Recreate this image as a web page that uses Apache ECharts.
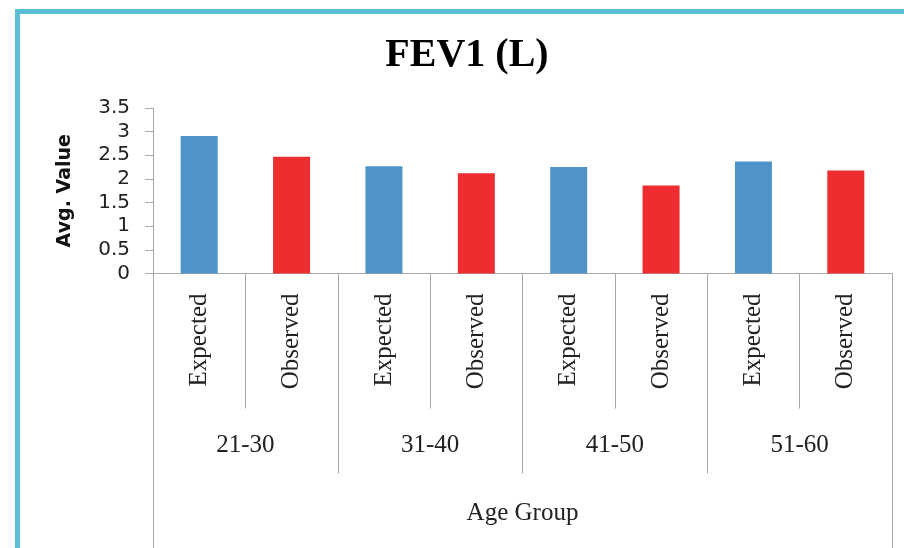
<!DOCTYPE html>
<html lang="en">
<head>
    <meta charset="UTF-8">
    <title>FEV1 (L)</title>
    <script type="text/javascript" src="https://cdn.jsdelivr.net/npm/echarts@6/dist/echarts.min.js"></script>
    <style>
        html, body { margin: 0; padding: 0; background: #fff; }
        #myChart { width: 904px; height: 548px; }
    </style>
</head>
<body>

<div id="myChart"></div>

<script type="text/javascript">
    // chart data
    var ageGroups = ['21-30', '31-40', '41-50', '51-60'];
    var barKinds = ['Expected', 'Observed'];
    var expected = [2.91, 2.27, 2.25, 2.37];
    var observed = [2.47, 2.12, 1.86, 2.18];
    var yTicks = [0, 0.5, 1, 1.5, 2, 2.5, 3, 3.5];

    var blue = '#4e94c8';
    var red = '#ee2d30';
    var gray = '#a9a9a9';
    var serif = '"Liberation Serif", serif';

    // Expected / Observed pairs, one pair per age group
    var barLabels = [];
    var barValues = [];
    for (var i = 0; i < ageGroups.length; i++) {
        barLabels.push(barKinds[0], barKinds[1]);
        barValues.push(expected[i], observed[i]);
    }

    var myChart = echarts.init(document.getElementById('myChart'));

    myChart.setOption({
        animation: false,
        backgroundColor: '#fff',
        title: {
            text: 'FEV1 (L)',
            left: 462,
            top: 31,
            textAlign: 'center',
            textStyle: {
                fontFamily: serif,
                fontWeight: 'bold',
                fontSize: 40,
                color: '#000'
            }
        },
        // cyan frame on the top and left
        graphic: [{
            type: 'rect',
            shape: { x: 17.5, y: 11.5, width: 1000, height: 1000 },
            style: { fill: 'none', stroke: '#5bbfd5', lineWidth: 5 },
            silent: true
        }],
        grid: {
            left: 153,
            right: 12,
            top: 108,
            bottom: 274.5
        },
        xAxis: [{
            type: 'category',
            data: barLabels,
            position: 'bottom',
            axisLine: { show: true, lineStyle: { color: gray, width: 1 } },
            axisTick: { show: true, length: 135, interval: 0, lineStyle: { color: gray, width: 1 } },
            axisLabel: {
                rotate: 90,
                interval: 0,
                margin: 20,
                fontFamily: serif,
                fontSize: 25,
                color: '#222'
            }
        }, {
            type: 'category',
            data: ageGroups,
            position: 'bottom',
            offset: 0,
            axisLine: { show: false },
            axisTick: { show: true, length: 200, interval: 0, lineStyle: { color: gray, width: 1 } },
            axisLabel: {
                interval: 0,
                margin: 159,
                fontFamily: serif,
                fontSize: 25,
                color: '#222'
            }
        }, {
            type: 'category',
            data: ['Age Group'],
            position: 'bottom',
            offset: 0,
            axisLine: { show: false },
            axisTick: { show: true, length: 300, lineStyle: { color: gray, width: 1 } },
            axisLabel: {
                margin: 227,
                fontFamily: serif,
                fontSize: 25,
                color: '#222'
            }
        }],
        yAxis: {
            type: 'value',
            min: yTicks[0],
            max: yTicks[yTicks.length - 1],
            interval: 0.5,
            name: 'Avg. Value',
            nameLocation: 'middle',
            nameGap: 78,
            nameTextStyle: {
                fontFamily: '"DejaVu Sans", sans-serif',
                fontWeight: 'bold',
                fontSize: 19,
                color: '#111'
            },
            axisLine: { show: true, lineStyle: { color: gray, width: 1 } },
            axisTick: { show: true, length: 8, lineStyle: { color: gray } },
            splitLine: { show: false },
            axisLabel: {
                margin: 23,
                fontFamily: '"DejaVu Sans", sans-serif',
                fontSize: 20,
                color: '#222'
            }
        },
        series: [{
            type: 'bar',
            xAxisIndex: 0,
            data: barValues,
            barWidth: 37,
            itemStyle: {
                color: function (p) {
                    return p.dataIndex % 2 === 0 ? blue : red;
                }
            }
        }]
    });
</script>
</body>
</html>
